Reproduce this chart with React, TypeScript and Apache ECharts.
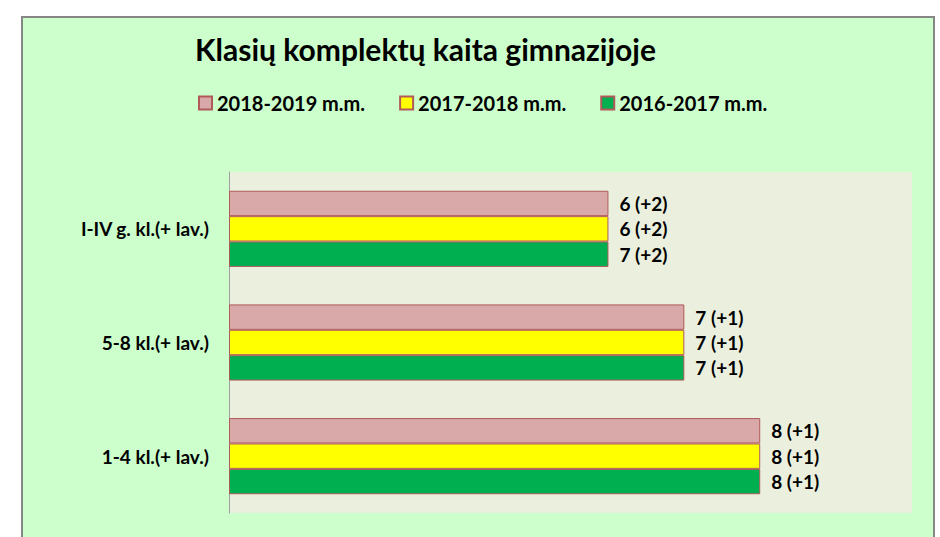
import React, { useEffect, useRef } from "react";
import * as echarts from "echarts";

const categories = ["1-4 kl.(+ lav.)", "5-8 kl.(+ lav.)", "I-IV g. kl.(+ lav.)"];
const seriesNames = ["2018-2019 m.m.", "2017-2018 m.m.", "2016-2017 m.m."];
// bar lengths (same per category across years)
const values2018 = [7, 6, 5];
const values2017 = [7, 6, 5];
const values2016 = [7, 6, 5];
// printed labels
const labels2018 = ["8 (+1)", "7 (+1)", "6 (+2)"];
const labels2017 = ["8 (+1)", "7 (+1)", "6 (+2)"];
const labels2016 = ["8 (+1)", "7 (+1)", "7 (+2)"];

const FONT = "Lato, 'Noto Sans', sans-serif";

export default function App() {
  const ref = useRef<HTMLDivElement>(null);
  useEffect(() => {
    if (!ref.current) return;
    const chart = echarts.init(ref.current, null, { renderer: "svg" });
    const mk = (name: string, vals: number[], labs: string[], color: string) => ({
      name,
      type: "bar",
      data: vals,
      barGap: "0%",
      barCategoryGap: "33%",
      itemStyle: { color, borderColor: "#b05a5a", borderWidth: 1 },
      label: {
        show: true,
        position: "right",
        distance: 11,
        fontFamily: FONT,
        fontWeight: "bold",
        fontSize: 19,
        color: "#000",
        formatter: (p: any) => labs[p.dataIndex],
      },
    });
    chart.setOption({
      animation: false,
      backgroundColor: "#ffffff",
      graphic: [
        {
          type: "rect",
          z: -100,
          shape: { x: 22, y: 17, width: 912, height: 540 },
          style: { fill: "#ccffcc", stroke: "#868686", lineWidth: 2 },
        },
      ],
      title: {
        text: "Klasių komplektų kaita gimnazijoje",
        left: 190,
        top: 29,
        textStyle: { fontFamily: FONT, fontWeight: "bold", fontSize: 30, color: "#000" },
      },
      legend: {
        data: seriesNames,
        left: 193,
        top: 88,
        icon: "rect",
        itemWidth: 13,
        itemHeight: 13,
        itemGap: 34,
        textStyle: { fontFamily: FONT, fontWeight: "bold", fontSize: 20, color: "#000" },
      },
      grid: {
        left: 229,
        right: 28,
        top: 172,
        bottom: 24,
        show: true,
        backgroundColor: "#ebf0de",
        borderWidth: 0,
      },
      xAxis: {
        type: "value",
        min: 0,
        max: 9,
        show: false,
      },
      yAxis: {
        type: "category",
        data: categories,
        axisLine: { show: true, lineStyle: { color: "#a0a0a0", width: 1 } },
        axisTick: { show: false },
        axisLabel: {
          margin: 20,
          fontFamily: FONT,
          fontWeight: "bold",
          fontSize: 19,
          color: "#000",
        },
      },
      series: [
        mk(seriesNames[0], values2018, labels2018, "#d9a8a8"),
        mk(seriesNames[1], values2017, labels2017, "#ffff00"),
        mk(seriesNames[2], values2016, labels2016, "#00b050"),
      ],
    });
    return () => chart.dispose();
  }, []);
  return (
    <div
      ref={ref}
      style={{ position: "absolute", left: 0, top: 0, width: 940, height: 537 }}
    />
  );
}
